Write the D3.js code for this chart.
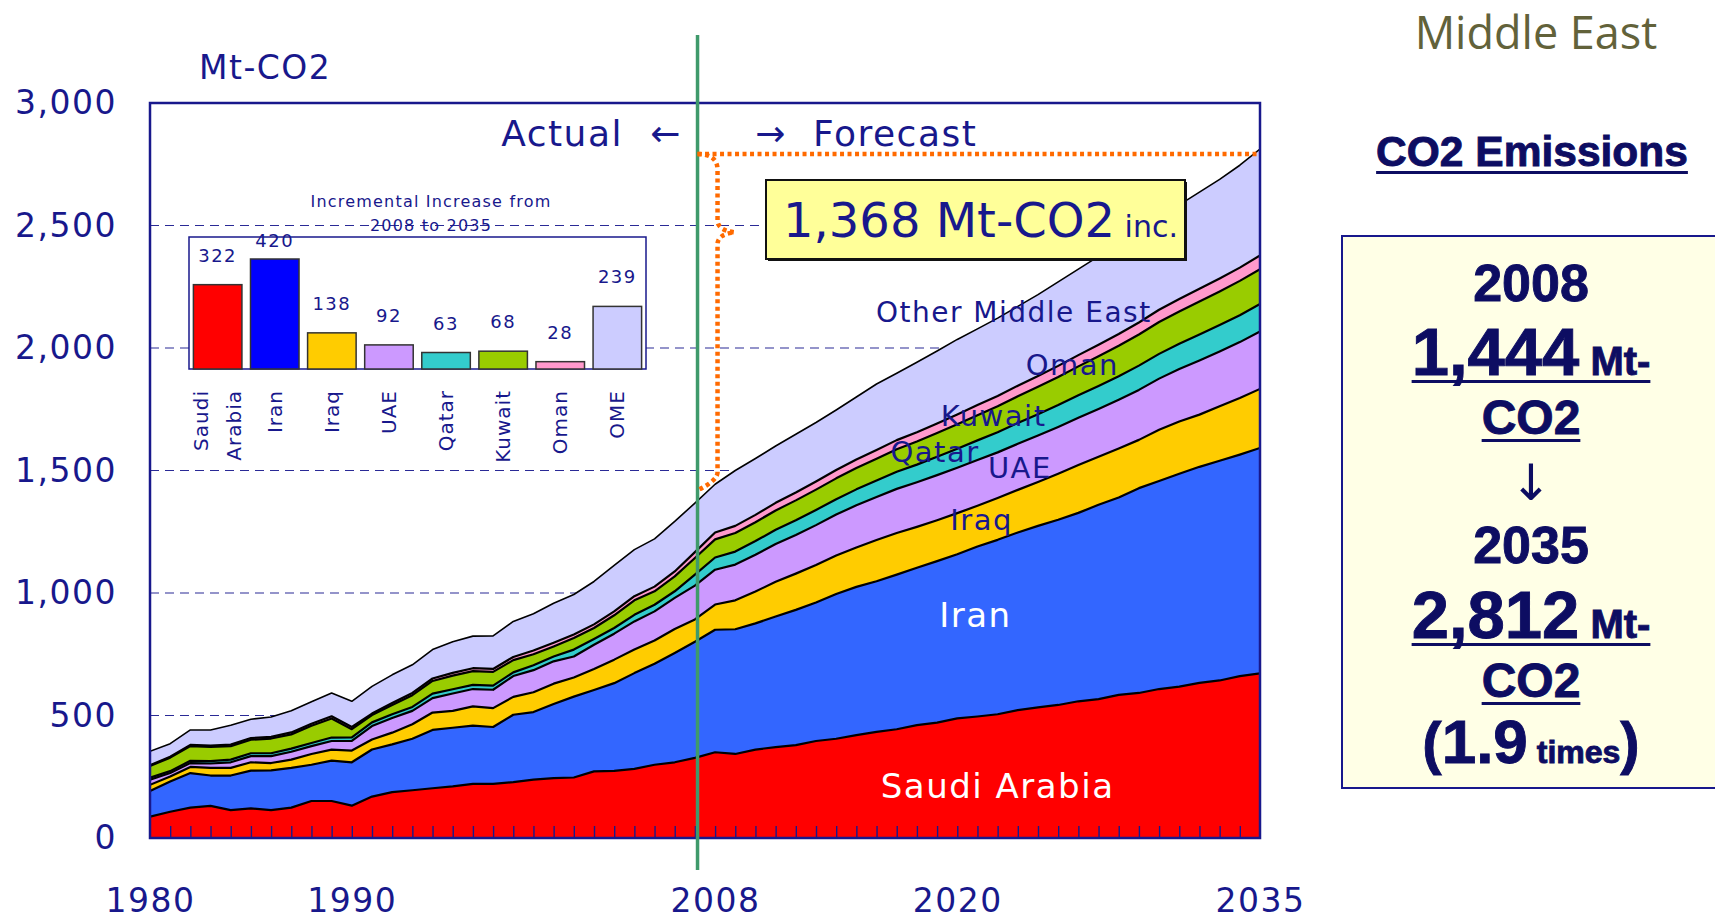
<!DOCTYPE html>
<html>
<head>
<meta charset="utf-8">
<script src="https://cdn.jsdelivr.net/npm/d3@7"></script>
<style>
  html, body { margin: 0; padding: 0; background: #ffffff; }
  svg { display: block; }
</style>
</head>
<body>
<svg id="chart" width="1715" height="921"></svg>
<script>
// ---------- Data: CO2 emissions, Middle East (Mt-CO2), actual 1980-2008, forecast 2009-2035 ----------
const years = [1980,1981,1982,1983,1984,1985,1986,1987,1988,1989,1990,1991,1992,1993,1994,1995,1996,1997,1998,1999,
  2000,2001,2002,2003,2004,2005,2006,2007,2008,2009,2010,2011,2012,2013,2014,2015,2016,2017,2018,2019,
  2020,2021,2022,2023,2024,2025,2026,2027,2028,2029,2030,2031,2032,2033,2034,2035];

const saudiArabia = [87,107,124,131,114,121,114,124,151,151,132,169,187,195,203,211,221,221,228,238,
  244,247,272,274,282,299,309,327,350,343,361,371,379,396,405,420,433,444,461,471,
  488,496,505,522,533,543,558,567,584,592,608,618,633,643,661,672];
const iran = [105,124,141,124,141,154,162,162,148,165,177,192,195,210,238,239,238,232,275,276,
  303,330,332,358,391,412,446,474,500,509,515,533,552,565,591,605,615,631,642,659,
  670,694,712,725,741,756,769,793,806,836,849,869,882,897,904,920];
const iraq = [25,20,25,31,31,34,30,34,44,45,48,41,48,59,71,69,78,77,73,81,
  83,78,86,96,96,95,98,91,103,118,130,142,148,153,157,161,168,170,167,167,
  168,166,171,174,179,188,195,196,200,197,209,213,213,222,231,241];
const uae = [21,14,16,18,23,25,28,32,32,35,39,55,60,55,59,71,71,75,85,90,
  91,86,99,106,115,119,127,138,142,146,150,154,158,163,167,172,176,180,182,184,
  185,187,186,188,190,191,193,195,199,204,209,214,221,224,228,234];
const qatar = [8,8,9,10,11,12,12,13,13,14,15,15,15,16,18,17,17,17,15,20,
  20,28,23,23,27,27,27,45,50,53,56,58,60,62,63,65,67,70,72,75,
  78,80,82,85,87,89,92,94,96,99,101,103,106,108,110,113];
const kuwait = [48,55,60,58,55,55,60,58,70,78,33,30,38,48,52,56,56,56,50,45,
  41,47,45,52,59,55,61,68,74,76,77,79,81,83,85,87,89,92,94,97,
  100,103,106,109,112,115,118,121,124,127,130,132,135,137,140,142];
const oman = [3,4,5,5,6,7,7,8,8,9,9,6,8,9,10,11,12,12,13,15,
  15,15,15,16,17,19,20,24,28,29,30,31,32,33,34,35,36,37,38,39,
  40,41,42,43,44,45,46,47,48,49,50,51,52,53,54,56];
const otherMiddleEast = [57,53,61,64,79,77,81,88,90,95,105,111,115,115,118,127,131,135,145,150,
  161,163,175,188,190,195,204,200,197,226,230,232,238,241,245,255,269,273,286,296,
  306,311,318,324,332,343,351,361,368,374,375,384,394,404,418,434];

// Incremental increase 2008 -> 2035 (inset bar chart)
const incCategories = ["Saudi Arabia", "Iran", "Iraq", "UAE", "Qatar", "Kuwait", "Oman", "OME"];
const incValues = [322, 420, 138, 92, 63, 68, 28, 239];

// Axis ticks
const yTicks = [0, 500, 1000, 1500, 2000, 2500, 3000];
const gridValues = [500, 1000, 1500, 2000, 2500];
const xLabelYears = [1980, 1990, 2008, 2020, 2035];

// ---------- Styling ----------
const NAVY = "#18188c";
const seriesKeys = ["saudi", "iran", "iraq", "uae", "qatar", "kuwait", "oman", "ome"];
const areaColors = ["#ff0000", "#3366ff", "#ffcc00", "#cc99ff", "#33cccc", "#99cc00", "#ff99cc", "#ccccff"];
const barColors  = ["#ff0000", "#0000ff", "#ffcc00", "#cc99ff", "#33cccc", "#99cc00", "#ff99cc", "#ccccff"];
const AXIS_FONT = "DejaVu Sans, Verdana, sans-serif";

const rows = years.map((yr, i) => ({
  year: yr,
  saudi: saudiArabia[i], iran: iran[i], iraq: iraq[i], uae: uae[i],
  qatar: qatar[i], kuwait: kuwait[i], oman: oman[i], ome: otherMiddleEast[i]
}));

const svg = d3.select("#chart");
const plot = { left: 150, right: 1260, top: 103, bottom: 838 };

const x = d3.scaleLinear().domain([1980, 2035]).range([plot.left, plot.right]);
const y = d3.scaleLinear().domain([0, 3000]).range([plot.bottom, plot.top]);

// ---------- Gridlines ----------
svg.append("g")
  .selectAll("line")
  .data(gridValues)
  .join("line")
  .attr("x1", plot.left).attr("x2", plot.right)
  .attr("y1", d => y(d)).attr("y2", d => y(d))
  .attr("stroke", "#2a2a96")
  .attr("stroke-width", 1.2)
  .attr("stroke-dasharray", "9,6");

// ---------- Stacked areas ----------
const stacked = d3.stack().keys(seriesKeys)(rows);

svg.append("defs").append("clipPath").attr("id", "plotClip")
  .append("rect")
  .attr("x", plot.left).attr("y", plot.top)
  .attr("width", plot.right - plot.left).attr("height", plot.bottom - plot.top);

const area = d3.area()
  .x(d => x(d.data.year))
  .y0(d => y(d[0]))
  .y1(d => y(d[1]));

const edge = d3.line()
  .x(d => x(d.data.year))
  .y(d => y(d[1]));

const layers = svg.append("g").attr("clip-path", "url(#plotClip)");
layers.selectAll("path.area")
  .data(stacked)
  .join("path")
  .attr("class", "area")
  .attr("d", area)
  .attr("fill", (d, i) => areaColors[i]);

layers.selectAll("path.edge")
  .data(stacked)
  .join("path")
  .attr("class", "edge")
  .attr("d", edge)
  .attr("fill", "none")
  .attr("stroke", "#000")
  .attr("stroke-width", (d, i) => i === stacked.length - 1 ? 1.6 : 2.2)
  .attr("stroke-linejoin", "round");

// ---------- Year tick marks (inside, along the bottom) ----------
svg.append("g")
  .attr("transform", `translate(0,${plot.bottom})`)
  .call(d3.axisBottom(x).tickValues(years.slice(1, -1)).tickSize(-12).tickFormat(""))
  .call(g => g.select(".domain").remove())
  .call(g => g.selectAll("line").attr("stroke", NAVY).attr("stroke-width", 1.4));

// ---------- Plot frame ----------
svg.append("rect")
  .attr("x", plot.left).attr("y", plot.top)
  .attr("width", plot.right - plot.left).attr("height", plot.bottom - plot.top)
  .attr("fill", "none").attr("stroke", NAVY).attr("stroke-width", 2.5);

// ---------- Axes labels ----------
const yAxisG = svg.append("g")
  .attr("transform", `translate(${plot.left},0)`)
  .call(d3.axisLeft(y).tickValues(yTicks).tickSize(0).tickPadding(33).tickFormat(d3.format(",")));
yAxisG.select(".domain").remove();
yAxisG.selectAll("text")
  .attr("font-family", AXIS_FONT).attr("font-size", 33)
  .attr("letter-spacing", "1.5px").attr("fill", NAVY);

const xAxisG = svg.append("g")
  .attr("transform", `translate(0,${plot.bottom})`)
  .call(d3.axisBottom(x).tickValues(xLabelYears).tickSize(0).tickPadding(51).tickFormat(d3.format("d")));
xAxisG.select(".domain").remove();
xAxisG.selectAll("text")
  .attr("font-family", AXIS_FONT).attr("font-size", 33)
  .attr("letter-spacing", "1.5px").attr("fill", NAVY);

svg.append("text")
  .attr("x", 199).attr("y", 79)
  .attr("font-family", AXIS_FONT).attr("font-size", 33)
  .attr("letter-spacing", "1.5px").attr("fill", NAVY)
  .text("Mt-CO2");

// ---------- Inset: incremental increase 2008 -> 2035 ----------
const inset = svg.append("g");
const insetBox = { left: 189, right: 646, top: 237, bottom: 369 };
inset.append("rect")
  .attr("x", insetBox.left).attr("y", insetBox.top)
  .attr("width", insetBox.right - insetBox.left).attr("height", insetBox.bottom - insetBox.top)
  .attr("fill", "#fff").attr("stroke", NAVY).attr("stroke-width", 1.5);

const bx = d3.scaleBand().domain(incCategories)
  .range([insetBox.left, insetBox.right]).paddingInner(0.15).paddingOuter(0.077);
const by = d3.scaleLinear().domain([0, 504]).range([insetBox.bottom, insetBox.top]);

inset.selectAll("rect.bar")
  .data(incCategories)
  .join("rect")
  .attr("class", "bar")
  .attr("x", d => bx(d))
  .attr("y", (d, i) => by(incValues[i]))
  .attr("width", bx.bandwidth())
  .attr("height", (d, i) => by(0) - by(incValues[i]))
  .attr("fill", (d, i) => barColors[i])
  .attr("stroke", "#333").attr("stroke-width", 1.5);

inset.selectAll("text.val")
  .data(incCategories)
  .join("text")
  .attr("class", "val")
  .attr("x", d => bx(d) + bx.bandwidth() / 2)
  .attr("y", (d, i) => Math.max(by(incValues[i]) - 23, insetBox.top + 10))
  .attr("text-anchor", "middle")
  .attr("font-family", AXIS_FONT).attr("font-size", 18)
  .attr("letter-spacing", "1.5px").attr("fill", NAVY)
  .text((d, i) => incValues[i]);

inset.selectAll("text.cat")
  .data(incCategories)
  .join("text")
  .attr("class", "cat")
  .attr("transform", d => `translate(${bx(d) + bx.bandwidth() / 2},${insetBox.bottom + 21}) rotate(-90)`)
  .attr("text-anchor", "end")
  .attr("font-family", AXIS_FONT).attr("font-size", 20)
  .attr("letter-spacing", "1px").attr("fill", NAVY)
  .each(function (d) {
    const words = d.split(" ");
    const t = d3.select(this);
    const gap = 33;
    words.forEach((w, k) => {
      t.append("tspan")
        .attr("x", 0)
        .attr("y", (k - (words.length - 1) / 2) * gap)
        .attr("dominant-baseline", "central")
        .text(w);
    });
  });

inset.append("text")
  .attr("x", 431).attr("y", 207).attr("text-anchor", "middle")
  .attr("font-family", AXIS_FONT).attr("font-size", 16)
  .attr("letter-spacing", "1.2px").attr("fill", NAVY)
  .text("Incremental Increase from");
inset.append("text")
  .attr("x", 431).attr("y", 231).attr("text-anchor", "middle")
  .attr("font-family", AXIS_FONT).attr("font-size", 16)
  .attr("letter-spacing", "1.2px").attr("fill", NAVY)
  .text("2008 to 2035");

// ---------- Actual / Forecast divider ----------
const dividerYear = 2007.13;
const xDiv = x(dividerYear);
svg.append("line")
  .attr("x1", xDiv).attr("x2", xDiv).attr("y1", 35).attr("y2", 870)
  .attr("stroke", "#3f9a6b").attr("stroke-width", 3.5);

const labelStyle = sel => sel
  .attr("font-family", AXIS_FONT).attr("font-size", 36)
  .attr("letter-spacing", "1.5px").attr("fill", NAVY);
svg.append("text").attr("x", 623).attr("y", 146).attr("text-anchor", "end").call(labelStyle).text("Actual");
svg.append("text").attr("x", 666).attr("y", 146).attr("text-anchor", "middle").call(labelStyle).text("\u2190");
svg.append("text").attr("x", 771).attr("y", 146).attr("text-anchor", "middle").call(labelStyle).text("\u2192");
svg.append("text").attr("x", 813).attr("y", 146).call(labelStyle).text("Forecast");

// ---------- Increase bracket (2008 total up to 2035 total) ----------
const total2008 = d3.sum(seriesKeys, k => rows[years.indexOf(2008)][k]);
const total2035 = d3.sum(seriesKeys, k => rows[years.indexOf(2035)][k]);
const yTop = y(total2035) + 5;
const yBot = y(total2008);
const braceX = xDiv + 20;
const tipX = xDiv + 37;
const tipY = yTop + 0.237 * (yBot - yTop);
const bracePath = [
  `M${xDiv},${yTop}`,
  `Q${braceX},${yTop} ${braceX},${yTop + 16}`,
  `V${tipY - 12}`,
  `Q${braceX},${tipY - 2} ${tipX},${tipY}`,
  `Q${braceX},${tipY + 2} ${braceX},${tipY + 12}`,
  `V${yBot - 12}`,
  `Q${braceX},${yBot - 4} ${xDiv + 2},${yBot + 5}`
].join(" ");
const orange = svg.append("g")
  .attr("fill", "none").attr("stroke", "#ff6a00")
  .attr("stroke-width", 4.5).attr("stroke-dasharray", "4,3.5");
orange.append("path").attr("d", `M${xDiv},${yTop} H${x(2035) - 2}`);
orange.append("path").attr("d", bracePath);

// Increase callout
const callout = svg.append("g");
callout.append("rect").attr("x", 768).attr("y", 182).attr("width", 419).attr("height", 79).attr("fill", "#111");
callout.append("rect").attr("x", 766).attr("y", 180).attr("width", 419).attr("height", 79)
  .attr("fill", "#ffff99").attr("stroke", "#111").attr("stroke-width", 2);
const callText = callout.append("text")
  .attr("x", 783).attr("y", 237)
  .attr("font-family", AXIS_FONT).attr("fill", NAVY)
  .style("white-space", "pre");
callText.append("tspan").attr("font-size", 48).text(d3.format(",")(total2035 - total2008) + " Mt-CO2");
callText.append("tspan").attr("font-size", 30).text(" inc.");

// ---------- Area labels (positioned in data units) ----------
const areaLabels = [
  { text: "Other Middle East", year: 2022.8, value: 2106, size: 28, color: NAVY },
  { text: "Oman",              year: 2025.7, value: 1890, size: 29, color: NAVY },
  { text: "Kuwait",            year: 2021.8, value: 1680, size: 29, color: NAVY },
  { text: "Qatar",             year: 2018.9, value: 1535, size: 29, color: NAVY },
  { text: "UAE",               year: 2023.1, value: 1470, size: 29, color: NAVY },
  { text: "Iraq",              year: 2021.2, value: 1258, size: 29, color: NAVY },
  { text: "Iran",              year: 2020.9, value: 862,  size: 34, color: "#ffffff" },
  { text: "Saudi Arabia",      year: 2022.0, value: 165,  size: 34, color: "#ffffff" }
];
svg.append("g").selectAll("text")
  .data(areaLabels)
  .join("text")
  .attr("x", d => x(d.year)).attr("y", d => y(d.value))
  .attr("text-anchor", "middle")
  .attr("font-family", AXIS_FONT)
  .attr("font-size", d => d.size)
  .attr("letter-spacing", "1.5px")
  .attr("fill", d => d.color)
  .text(d => d.text);

// ---------- Right-hand summary panel ----------
const panel = svg.append("g");
const PANEL_NAVY = "#0d0d62";
const panelX = 1531;

panel.append("text")
  .attr("x", 1536).attr("y", 49).attr("text-anchor", "middle")
  .attr("font-family", "Open Sans, sans-serif").attr("font-size", 45)
  .attr("fill", "#62623a")
  .text("Middle East");

function panelLine(cx, baseline, parts, underlineOffset) {
  const t = panel.append("text")
    .attr("x", cx).attr("y", baseline).attr("text-anchor", "middle")
    .attr("font-family", "Liberation Sans, Arial, sans-serif").attr("font-weight", "bold")
    .attr("fill", PANEL_NAVY).attr("stroke", PANEL_NAVY).attr("stroke-width", 0.9)
    .style("white-space", "pre");
  parts.forEach(p => t.append("tspan").attr("font-size", p.size).text(p.text));
  if (underlineOffset != null) {
    const bb = t.node().getBBox();
    panel.append("rect")
      .attr("x", bb.x).attr("y", baseline + underlineOffset)
      .attr("width", bb.width).attr("height", 3)
      .attr("fill", PANEL_NAVY);
  }
  return t;
}

panelLine(1532, 166, [{ text: "CO2 Emissions", size: 42.5 }], 5);

panel.append("rect")
  .attr("x", 1342).attr("y", 236).attr("width", 400).attr("height", 552)
  .attr("fill", "#ffffe6").attr("stroke", NAVY).attr("stroke-width", 2);

const totalFmt = d3.format(",");
panelLine(panelX, 301, [{ text: "2008", size: 52 }]);
panelLine(panelX, 375, [{ text: totalFmt(total2008), size: 67 }, { text: " Mt-", size: 40 }], 5);
panelLine(panelX, 434, [{ text: "CO2", size: 48 }], 5);
panel.append("text")
  .attr("x", panelX).attr("y", 500).attr("text-anchor", "middle")
  .attr("font-family", AXIS_FONT).attr("font-size", 50)
  .attr("fill", PANEL_NAVY)
  .text("\u2193");
panelLine(panelX, 563, [{ text: "2035", size: 52 }]);
panelLine(panelX, 638, [{ text: totalFmt(total2035), size: 67 }, { text: " Mt-", size: 40 }], 5);
panelLine(panelX, 697, [{ text: "CO2", size: 48 }], 5);
panelLine(panelX, 763, [
  { text: "(", size: 58 },
  { text: d3.format(".1f")(total2035 / total2008), size: 62 },
  { text: " times", size: 32 },
  { text: ")", size: 58 }
]);
</script>
</body>
</html>
